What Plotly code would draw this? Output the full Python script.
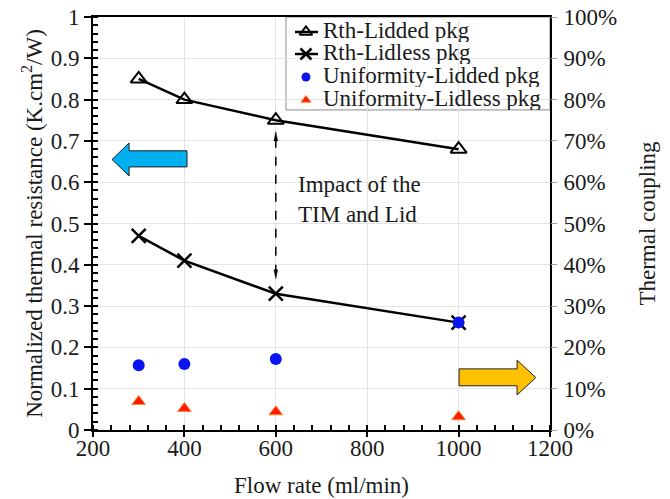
import plotly.graph_objects as go

# Flow rates (ml/min)
flow = [300, 400, 600, 1000]

# Normalized thermal resistance (K.cm2/W)
rth_lidded = [0.85, 0.80, 0.75, 0.68]
rth_lidless = [0.47, 0.41, 0.33, 0.26]

# Thermal coupling (fraction)
unif_lidded = [0.157, 0.16, 0.172, 0.26]
unif_lidless = [0.069, 0.052, 0.044, 0.032]

series_names = ["Rth-Lidded pkg", "Rth-Lidless pkg",
                "Uniformity-Lidded pkg", "Uniformity-Lidless pkg"]

FONT = "Liberation Serif, Times New Roman, serif"
FS = 23
TXT = "#1a1a1a"

STYLE = [
    dict(mode="lines+markers", line=dict(color="black", width=2.5),
         marker=dict(symbol="triangle-up-open", size=14, color="black",
                     line=dict(width=2, color="black"))),
    dict(mode="lines+markers", line=dict(color="black", width=2.5),
         marker=dict(symbol="x-thin-open", size=14, color="black",
                     line=dict(width=2.5, color="black"))),
    dict(mode="markers",
         marker=dict(symbol="circle", size=12, color="#0a14f0",
                     line=dict(width=0))),
    dict(mode="markers",
         marker=dict(symbol="triangle-up", size=12, color="#ff1a00",
                     line=dict(width=1, color="#ff8a3a"))),
]

fig = go.Figure()

fig.add_trace(go.Scatter(x=flow, y=rth_lidded, name=series_names[0], **STYLE[0]))
fig.add_trace(go.Scatter(x=flow, y=rth_lidless, name=series_names[1], **STYLE[1]))
fig.add_trace(go.Scatter(x=flow, y=unif_lidded, name=series_names[2],
                         yaxis="y2", **STYLE[2]))
fig.add_trace(go.Scatter(x=flow, y=unif_lidless, name=series_names[3],
                         yaxis="y2", **STYLE[3]))

# ---- compact legend drawn on an overlay axis spanning the plot area ----
leg_x0, leg_x1 = 0.4223, 1.0
leg_y0, leg_y1 = 0.775, 1.0
row_y = [0.9637, 0.9104, 0.8547, 0.799]
sym_x = 0.466
text_x = 0.499

shapes = [
    dict(type="rect", xref="paper", yref="paper",
         x0=leg_x0, x1=leg_x1, y0=leg_y0, y1=leg_y1,
         fillcolor="white", line=dict(color="#8c8c8c", width=1),
         layer="between"),
]
annotations = []
for i, (name, ry) in enumerate(zip(series_names, row_y)):
    if i < 2:
        shapes.append(dict(type="line", xref="paper", yref="paper",
                           x0=0.442, x1=0.4923, y0=ry, y1=ry, layer="between",
                           line=dict(color="black", width=2.5)))
    mk = dict(STYLE[i]["marker"])
    mk["size"] = mk["size"] - 3
    fig.add_trace(go.Scatter(x=[sym_x], y=[ry], mode="markers", marker=mk,
                             xaxis="x3", yaxis="y3", showlegend=False,
                             hoverinfo="skip", cliponaxis=False))
    annotations.append(dict(x=text_x, y=ry, xref="paper", yref="paper",
                            xanchor="left", yanchor="middle", text=name,
                            showarrow=False, height=24, valign="middle",
                            yshift=2,
                            font=dict(family=FONT, size=FS, color=TXT)))

# Left-pointing arrow (resistance axis)
blue_arrow = ("M 241.6,0.655 L 279,0.695 L 279,0.676 L 405.7,0.676 "
              "L 405.7,0.637 L 279,0.637 L 279,0.615 Z")
# Right-pointing arrow (coupling axis)
gold_arrow = ("M 1001,0.148 L 1128,0.148 L 1128,0.169 L 1169,0.127 "
              "L 1128,0.085 L 1128,0.107 L 1001,0.107 Z")

shapes += [
    dict(type="path", path=blue_arrow, xref="x", yref="y", layer="between",
         fillcolor="#00b0f0", line=dict(color="#1f1f1f", width=1)),
    dict(type="path", path=gold_arrow, xref="x", yref="y", layer="between",
         fillcolor="#ffc000", line=dict(color="#1f1f1f", width=1)),
    # dashed double-headed arrow between the two resistance curves
    dict(type="line", xref="x", yref="y", x0=600, x1=600, y0=0.705, y1=0.385,
         line=dict(color="black", width=1.5, dash="dash")),
    dict(type="path", xref="x", yref="y",
         path="M 600,0.722 L 596,0.700 L 604,0.700 Z",
         fillcolor="black", line=dict(color="black", width=0.5)),
    dict(type="path", xref="x", yref="y",
         path="M 600,0.366 L 596,0.388 L 604,0.388 Z",
         fillcolor="black", line=dict(color="black", width=0.5)),
]

annotations.append(dict(x=645, y=0.557, xref="x", yref="y", xanchor="left",
                        yanchor="middle", text="Impact of the<br>TIM and Lid",
                        showarrow=False, align="left",
                        font=dict(family=FONT, size=FS, color=TXT)))

fig.update_layout(
    width=670, height=499,
    margin=dict(l=93, r=120, t=17, b=69, autoexpand=False),
    paper_bgcolor="white", plot_bgcolor="white",
    font=dict(family=FONT, size=FS, color=TXT),
    showlegend=False,
    xaxis=dict(
        range=[200, 1200], dtick=200, tick0=200, automargin=False,
        showgrid=True, gridcolor="#e4e4e4", gridwidth=1,
        showline=True, linecolor="black", linewidth=2, mirror=True,
        ticks="outside", ticklen=5, tickcolor="black", tickwidth=1.5,
        minor=dict(dtick=40, tick0=200, ticks="inside", ticklen=5,
                   tickcolor="black", tickwidth=1.5, showgrid=False),
        tickfont=dict(size=FS), zeroline=False, ticklabelstandoff=-9,
        title=dict(text="Flow rate (ml/min)", font=dict(size=FS), standoff=17),
    ),
    yaxis=dict(
        range=[0, 1], dtick=0.1, tick0=0, automargin=False,
        showgrid=True, gridcolor="#e4e4e4", gridwidth=1,
        showline=True, linecolor="black", linewidth=2, mirror=True,
        ticks="outside", ticklen=7, tickcolor="black", tickwidth=1.5,
        minor=dict(dtick=0.02, tick0=0, ticks="inside", ticklen=5,
                   tickcolor="black", tickwidth=1.5, showgrid=False),
        tickfont=dict(size=FS), zeroline=False,
        title=dict(text="Normalized thermal resistance (K.cm<sup>2</sup>/W)",
                   font=dict(size=FS), standoff=2),
    ),
    yaxis2=dict(
        range=[0, 1], dtick=0.1, tick0=0, tickformat=".0%", automargin=False,
        overlaying="y", side="right", showgrid=False, zeroline=False,
        ticks="outside", ticklen=6, tickcolor="#a0a0a0", tickwidth=1,
        tickfont=dict(size=FS), ticklabelstandoff=2,
        title=dict(text="Thermal coupling", font=dict(size=FS), standoff=22),
    ),
    xaxis3=dict(range=[0, 1], overlaying="x", visible=False, fixedrange=True),
    yaxis3=dict(range=[0, 1], overlaying="y", visible=False, fixedrange=True),
    shapes=shapes,
    annotations=annotations,
)

fig.write_html("out.html")
